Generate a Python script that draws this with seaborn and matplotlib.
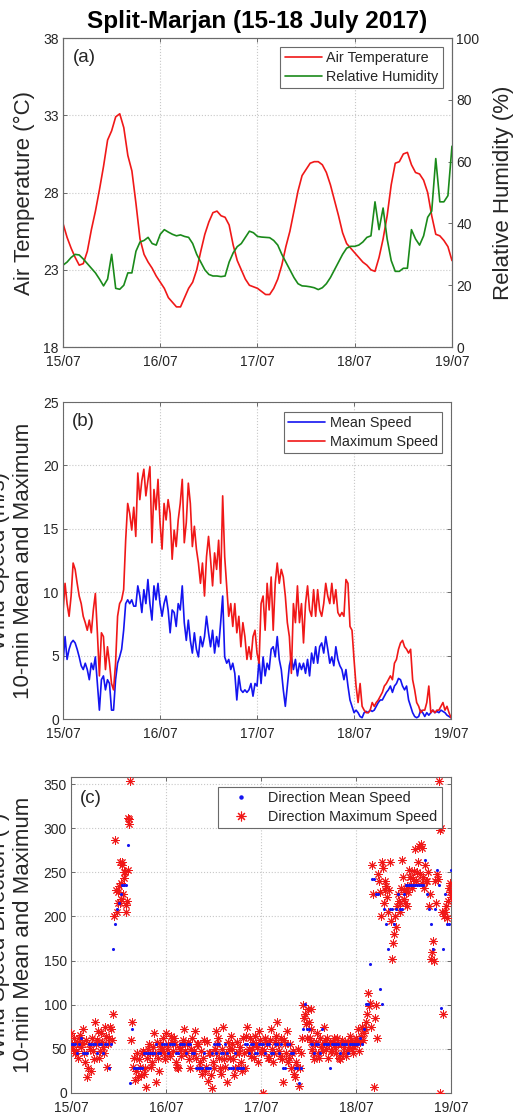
import numpy as np
import matplotlib
matplotlib.use("Agg")
import matplotlib.pyplot as plt
import seaborn as sns
from matplotlib.lines import Line2D

sns.set_style("white")
plt.rcParams["font.family"] = ["Liberation Sans", "DejaVu Sans"]

# ---------------- data ----------------
title = "Split-Marjan (15-18 July 2017)"
day_labels = ["15/07", "16/07", "17/07", "18/07", "19/07"]
day_hours = [0, 24, 48, 72, 96]

# hourly air temperature (°C), 15/07 00h .. 19/07 00h
air_temp = [26.0, 25.1, 24.4, 23.8, 23.3, 23.4, 24.2, 25.6, 26.8, 28.2,
            29.7, 31.4, 32.0, 32.9, 33.1, 32.2, 30.4, 29.4, 27.3, 25.0,
            24.0, 23.5, 23.1, 22.6, 22.2, 21.8, 21.2, 20.9, 20.6, 20.6,
            21.2, 21.8, 22.2, 23.0, 24.2, 25.3, 26.1, 26.7, 26.8, 26.5,
            26.4, 25.9, 24.6, 23.6, 23.0, 22.4, 22.0, 21.9, 21.8, 21.6,
            21.4, 21.4, 21.8, 22.4, 23.3, 24.5, 25.5, 26.8, 28.1, 29.1,
            29.5, 29.9, 30.0, 30.0, 29.8, 29.3, 28.5, 27.5, 26.5, 25.4,
            24.7, 24.4, 24.1, 23.8, 23.5, 23.3, 23.0, 22.9, 23.8, 25.0,
            26.5, 28.5, 29.9, 30.0, 30.5, 30.6, 29.8, 29.3, 29.2, 28.8,
            28.0, 26.5, 25.3, 25.2, 24.9, 24.5, 23.6]

# hourly relative humidity (%)
rel_hum = [26.5, 27.5, 29.0, 30.0, 29.8, 28.5, 27.0, 25.5, 24.0, 22.0,
           19.8, 22.0, 30.0, 19.0, 18.7, 20.0, 24.0, 24.0, 31.0, 34.0,
           34.5, 35.5, 33.5, 33.0, 36.5, 38.0, 37.2, 36.5, 36.0, 36.3,
           35.8, 35.5, 33.5, 30.0, 27.5, 25.0, 23.5, 23.0, 23.0, 22.8,
           23.0, 27.5, 30.5, 32.5, 33.5, 35.5, 37.5, 37.0, 35.8, 35.6,
           35.5, 35.4, 34.5, 33.0, 30.0, 27.5, 25.0, 22.5, 20.5, 19.8,
           19.7, 19.5, 19.2, 18.6, 19.2, 20.5, 22.5, 25.0, 27.5, 30.0,
           32.0, 32.6, 32.6, 33.0, 34.0, 35.5, 36.0, 47.0, 38.0, 45.0,
           35.0, 28.0, 24.5, 24.5, 25.5, 25.5, 38.0, 35.0, 33.0, 36.0,
           42.0, 44.0, 61.0, 47.0, 47.0, 49.0, 65.0]

# half-hourly 10-min wind speed (m/s)
max_speed = [8.4, 10.7, 9.1, 8.1, 9.7, 12.3, 11.8, 10.7, 9.7, 9.1,
             8.1, 7.6, 7.0, 7.8, 6.8, 8.6, 9.9, 6.8, 3.4, 6.8,
             6.5, 3.9, 5.7, 4.4, 2.8, 2.3, 4.4, 8.1, 9.1, 9.4,
             10.2, 14.1, 17.0, 16.2, 14.9, 16.7, 14.4, 19.4, 17.3, 18.8,
             19.7, 17.6, 18.8, 19.9, 13.9, 18.1, 16.5, 18.9, 15.5, 13.4,
             17.0, 15.7, 17.3, 16.2, 12.6, 14.9, 13.6, 15.7, 17.0, 18.9,
             13.9, 15.5, 18.6, 17.0, 13.6, 15.2, 13.4, 12.3, 10.7, 12.3,
             9.7, 12.8, 14.4, 12.6, 10.5, 13.1, 11.8, 14.1, 10.7, 17.6,
             12.8, 10.5, 8.1, 9.1, 7.3, 9.1, 6.8, 8.1, 5.7, 7.6,
             6.5, 4.7, 5.7, 4.7, 6.5, 7.0, 5.2, 4.4, 9.1, 9.7,
             7.0, 10.7, 8.6, 11.2, 7.0, 10.7, 12.3, 10.7, 11.8, 11.2,
             9.7, 7.6, 6.5, 3.6, 9.1, 7.6, 10.5, 7.6, 9.1, 6.0,
             9.1, 10.5, 8.6, 8.1, 10.2, 8.1, 10.2, 8.6, 8.1, 9.1,
             10.7, 9.7, 9.1, 10.7, 9.1, 10.2, 8.4, 8.1, 8.4, 8.1,
             11.0, 10.7, 7.3, 7.0, 4.7, 2.6, 1.3, 2.8, 1.0, 0.7,
             0.5, 0.5, 0.7, 1.3, 1.0, 1.3, 1.5, 1.8, 2.1, 2.6,
             2.8, 3.1, 3.4, 3.1, 4.4, 4.7, 5.5, 6.0, 6.2, 5.7,
             5.5, 5.2, 5.5, 3.1, 2.3, 1.3, 1.0, 0.5, 0.7, 0.7,
             1.3, 2.6, 0.5, 0.7, 0.5, 0.7, 0.7, 1.0, 1.3, 0.7,
             1.0, 0.5, 0.1]

mean_speed = [4.4, 6.5, 4.7, 5.5, 6.0, 6.2, 6.0, 5.5, 4.9, 4.2,
              3.9, 4.4, 3.9, 3.1, 4.4, 3.9, 4.9, 2.8, 0.7, 3.1,
              3.4, 2.3, 3.1, 2.8, 0.7, 0.7, 3.1, 4.4, 4.9, 5.5,
              7.0, 9.1, 9.4, 9.1, 9.4, 8.9, 8.9, 10.5, 9.7, 8.4,
              10.2, 9.1, 11.0, 9.1, 7.8, 10.5, 9.4, 10.7, 9.1, 8.1,
              9.1, 9.7, 8.6, 6.8, 8.6, 8.4, 7.3, 9.1, 8.6, 10.5,
              7.6, 6.2, 7.8, 6.2, 5.2, 6.8, 5.5, 4.9, 6.5, 5.7,
              6.5, 8.1, 6.8, 5.7, 7.0, 5.2, 6.5, 5.7, 7.6, 9.7,
              4.9, 4.4, 4.7, 3.9, 4.4, 3.6, 1.5, 3.4, 2.3, 2.1,
              2.3, 2.1, 2.3, 2.8, 1.8, 2.8, 2.6, 4.7, 2.8, 4.9,
              3.4, 4.4, 3.9, 5.5, 5.7, 4.9, 6.5, 4.7, 3.9, 2.3,
              1.0, 2.6, 4.2, 4.9, 3.9, 4.7, 3.4, 4.4, 3.9, 4.4,
              3.6, 4.7, 3.4, 5.2, 4.4, 5.7, 4.4, 5.7, 6.0, 5.2,
              6.5, 5.5, 4.4, 4.9, 4.2, 5.7, 4.7, 4.2, 3.9, 3.1,
              3.9, 2.6, 1.5, 1.0, 0.5, 0.7, 0.5, 0.2, 0.1, 0.5,
              0.6, 0.5, 0.7, 0.6, 0.7, 1.0, 1.3, 1.5, 1.5, 1.8,
              2.1, 2.3, 2.6, 2.1, 2.6, 2.8, 3.2, 3.1, 2.6, 2.3,
              2.6, 1.5, 1.0, 0.5, 0.2, 0.1, 0.2, 0.7, 0.5, 0.2,
              0.5, 0.3, 0.5, 0.7, 0.5, 0.6, 0.5, 0.7, 0.6, 0.5,
              0.3, 0.2, 0.1]

# half-hourly wind direction (deg)
dir_mean = [56, 56, 56, 45, 56, 62, 45, 45, 45, 56,
            56, 56, 56, 45, 56, 56, 45, 56, 56, 28,
            56, 163, 191, 208, 215, 225, 236, 236, 236, 281,
            11, 73, 28, 28, 28, 28, 28, 45, 45, 45,
            45, 45, 45, 56, 45, 45, 56, 56, 56, 45,
            56, 56, 56, 45, 45, 56, 56, 56, 45, 56,
            56, 45, 45, 28, 28, 28, 28, 45, 28, 28,
            28, 45, 56, 45, 56, 56, 45, 45, 56, 45,
            28, 28, 28, 45, 28, 28, 28, 28, 56, 56,
            45, 56, 56, 45, 45, 56, 56, 56, 45, 56,
            56, 45, 45, 56, 56, 45, 56, 28, 28, 56,
            56, 45, 45, 28, 28, 11, 28, 73, 101, 73,
            73, 56, 56, 45, 56, 56, 45, 73, 56, 56,
            56, 28, 56, 56, 56, 56, 45, 56, 56, 56,
            45, 56, 56, 56, 56, 56, 62, 56, 73, 101,
            101, 146, 242, 242, 225, 225, 118, 101, 208, 191,
            163, 208, 208, 191, 208, 225, 208, 208, 225, 236,
            236, 236, 236, 236, 236, 236, 236, 236, 236, 264,
            225, 208, 191, 163, 208, 253, 236, 96, 163, 225,
            191, 191, 253]

dir_max = [68, 50, 45, 58, 62, 52, 73, 35, 18, 55,
           25, 48, 80, 60, 40, 68, 52, 75, 30, 62,
           72, 90, 287, 205, 235, 220, 258, 243, 213, 312,
           354, 80, 40, 25, 18, 30, 45, 22, 7, 50,
           45, 35, 68, 12, 40, 56, 50, 45, 68, 55,
           42, 58, 62, 35, 28, 50, 55, 72, 45, 58,
           28, 62, 48, 40, 55, 35, 22, 60, 30, 14,
           45, 6, 28, 70, 55, 40, 22, 75, 30, 12,
           50, 65, 38, 28, 58, 45, 35, 62, 28, 75,
           50, 42, 58, 65, 52, 70, 45, 0, 62, 55,
           40, 72, 35, 58, 80, 48, 62, 12, 55, 70,
           40, 28, 48, 18, 30, 8, 45, 100, 90, 62,
           80, 72, 50, 38, 58, 45, 62, 55, 75, 50,
           40, 58, 48, 62, 45, 55, 38, 60, 52, 42,
           58, 65, 50, 56, 62, 72, 58, 75, 68, 80,
           113, 102, 258, 7, 100, 248, 228, 262, 215, 235,
           205, 262, 152, 180, 188, 225, 205, 264, 220, 228,
           212, 253, 236, 242, 276, 250, 280, 282, 245, 258,
           240, 212, 152, 172, 240, 248, 354, 300, 90, 205,
           198, 232, 222]

# max-speed direction readings at the quarter-hour in between (h 0.25 .. 95.75)
dir_max_mid = [55, 62, 48, 40, 66, 57, 45, 60, 28, 50,
               62, 38, 55, 70, 48, 58, 45, 65, 56, 75,
               60, 200, 230, 215, 262, 238, 225, 250, 218, 305,
               60, 30, 15, 45, 38, 20, 48, 28, 40, 55,
               30, 52, 45, 58, 25, 48, 62, 38, 50, 45,
               65, 48, 55, 30, 52, 42, 60, 48, 55, 38,
               50, 45, 70, 55, 28, 48, 40, 25, 58, 45,
               20, 35, 50, 45, 62, 28, 50, 38, 45, 58,
               40, 55, 20, 45, 30, 52, 25, 45, 65, 48,
               62, 50, 40, 55, 35, 60, 50, 48, 58, 40,
               60, 50, 45, 65, 55, 42, 38, 60, 45, 35,
               55, 45, 22, 35, 50, 28, 62, 85, 78, 95,
               62, 58, 45, 55, 68, 40, 52, 48, 60, 62,
               55, 48, 58, 52, 62, 40, 55, 45, 58, 48,
               52, 60, 45, 55, 58, 48, 65, 60, 72, 90,
               98, 75, 225, 85, 62, 240, 200, 255, 230, 222,
               230, 195, 170, 200, 212, 218, 232, 245, 215, 235,
               228, 245, 232, 252, 240, 262, 248, 238, 232, 240,
               250, 225, 160, 150, 215, 242, 298, 205, 200, 212,
               218, 228]

# a few further isolated max-speed direction readings
dir_max_extra_hours = [11.8, 12.3, 12.8, 13.3, 13.8, 14.3, 14.6, 93.2, 88.7, 87.2,
                       85.7, 84.2, 83.2, 79.2, 95.7, 2.2, 6.7, 22.7, 40.7, 60.7]
dir_max_extra_deg = [228, 215, 262, 250, 205, 253, 310, 0, 278, 240,
                     245, 230, 215, 240, 238, 55, 58, 50, 50, 95]

# ---------------- figure ----------------
RED = "#f01818"
GREEN = "#1a8a1a"
BLUE = "#1414f0"
AXC = "#6a6a6a"
TXT = "#262626"
LABEL_FS = 16
LEG_FS = 10.4

hours_1h = np.arange(len(air_temp))
hours_half = np.arange(len(max_speed)) * 0.5
hours_mid = np.arange(len(dir_max_mid)) * 0.5 + 0.25

fig = plt.figure(figsize=(5.23, 11.17), dpi=100)
ax_a = fig.add_axes([0.1205, 0.6893, 0.7437, 0.2766])
ax_b = fig.add_axes([0.1205, 0.3563, 0.7419, 0.2838])
ax_c = fig.add_axes([0.1358, 0.0215, 0.7266, 0.2829])


def style_axis(ax, right_ticks=True):
    for sp in ax.spines.values():
        sp.set_color(AXC)
        sp.set_linewidth(0.8)
        sp.set_visible(True)
    ax.tick_params(direction="in", length=3, width=0.7, colors=AXC,
                   labelcolor=TXT, labelsize=10, top=True, right=right_ticks,
                   bottom=True, left=True, pad=3)
    ax.tick_params(axis="x", pad=6)
    ax.set_xlim(0, 96)
    ax.set_xticks(day_hours)
    ax.set_xticklabels(day_labels)
    ax.grid(True, linestyle=":", color="#c8c8c8", linewidth=0.8)
    ax.set_xlabel("")


def legend_box(ax, handles, labels, anchor, textpad=0.3):
    leg = ax.legend(handles, labels, loc="upper right", bbox_to_anchor=anchor,
                    borderaxespad=0, fontsize=LEG_FS, frameon=True, fancybox=False,
                    framealpha=1, edgecolor=AXC, handlelength=2.6,
                    handletextpad=textpad, borderpad=0.3, labelspacing=0.3)
    leg.get_frame().set_linewidth(0.8)
    return leg


# ----- (a) -----
sns.lineplot(x=hours_1h, y=air_temp, ax=ax_a, color=RED, linewidth=1.2)
ax_a2 = ax_a.twinx()
sns.lineplot(x=hours_1h, y=rel_hum, ax=ax_a2, color=GREEN, linewidth=1.2)
style_axis(ax_a, right_ticks=False)
ax_a.set_ylim(18, 38)
ax_a.set_yticks([18, 23, 28, 33, 38])
ax_a2.set_ylim(0, 100)
ax_a2.set_yticks([0, 20, 40, 60, 80, 100])
for sp in ax_a2.spines.values():
    sp.set_color(AXC)
    sp.set_linewidth(0.8)
ax_a2.tick_params(direction="in", length=3, width=0.7, colors=AXC,
                  labelcolor=TXT, labelsize=10, pad=3)
ax_a2.grid(False)
ax_a.set_ylabel("Air Temperature (°C)", fontsize=LABEL_FS, color=TXT)
ax_a.yaxis.set_label_coords(-0.072, 0.5)
ax_a2.set_ylabel("Relative Humidity (%)", fontsize=LABEL_FS, color=TXT)
ax_a2.yaxis.set_label_coords(1.105, 0.5)
ax_a.text(0.025, 0.965, "(a)", transform=ax_a.transAxes, fontsize=13.5,
          va="top", ha="left", color=TXT)
legend_box(ax_a2, [Line2D([], [], color=RED, lw=1.2), Line2D([], [], color=GREEN, lw=1.2)],
           ["Air Temperature", "Relative Humidity"], (0.977, 0.971))

# ----- (b) -----
sns.lineplot(x=hours_half, y=mean_speed, ax=ax_b, color=BLUE, linewidth=1.2,
             label="Mean Speed")
sns.lineplot(x=hours_half, y=max_speed, ax=ax_b, color=RED, linewidth=1.2,
             label="Maximum Speed")
style_axis(ax_b)
ax_b.set_ylim(0, 25)
ax_b.set_yticks([0, 5, 10, 15, 20, 25])
ax_b.set_ylabel("Wind Speed (m/s)\n10-min Mean and Maximum", fontsize=LABEL_FS,
                color=TXT, linespacing=1.2)
ax_b.yaxis.set_label_coords(-0.074, 0.5)
ax_b.text(0.023, 0.965, "(b)", transform=ax_b.transAxes, fontsize=13.5,
          va="top", ha="left", color=TXT)
hb, lb = ax_b.get_legend_handles_labels()
legend_box(ax_b, hb, lb, (0.977, 0.968))

# ----- (c) -----
sns.scatterplot(x=hours_half, y=dir_mean, ax=ax_c, color=BLUE, marker="o",
                s=5, linewidth=0, zorder=4)
all_max_hours = np.concatenate([hours_half, hours_mid, dir_max_extra_hours])
all_max_deg = np.concatenate([dir_max, dir_max_mid, dir_max_extra_deg])
sns.scatterplot(x=all_max_hours, y=all_max_deg, ax=ax_c, color=RED,
                marker=(8, 2, 0), s=30, linewidth=0.7, edgecolor=RED, zorder=3)
style_axis(ax_c)
ax_c.set_ylim(0, 358)
ax_c.set_yticks([0, 50, 100, 150, 200, 250, 300, 350])
ax_c.set_ylabel("Wind Speed Direction (°)\n10-min Mean and Maximum", fontsize=LABEL_FS,
                color=TXT, linespacing=1.2)
ax_c.yaxis.set_label_coords(-0.097, 0.5)
ax_c.text(0.024, 0.96, "(c)", transform=ax_c.transAxes, fontsize=13.5,
          va="top", ha="left", color=TXT)
h_mean = Line2D([], [], color=BLUE, marker="o", markersize=2.2, linestyle="none")
h_max = Line2D([], [], color=RED, marker=(8, 2, 0), markersize=7,
               markeredgewidth=0.8, linestyle="none")
legend_box(ax_c, [h_mean, h_max], ["Direction Mean Speed", "Direction Maximum Speed"],
           (0.976, 0.968), textpad=0.6)

fig.text(0.492, 0.981, title, fontsize=17.5, fontweight="bold", ha="center",
         va="center", color="black")

fig.savefig("out.png", dpi=100)
